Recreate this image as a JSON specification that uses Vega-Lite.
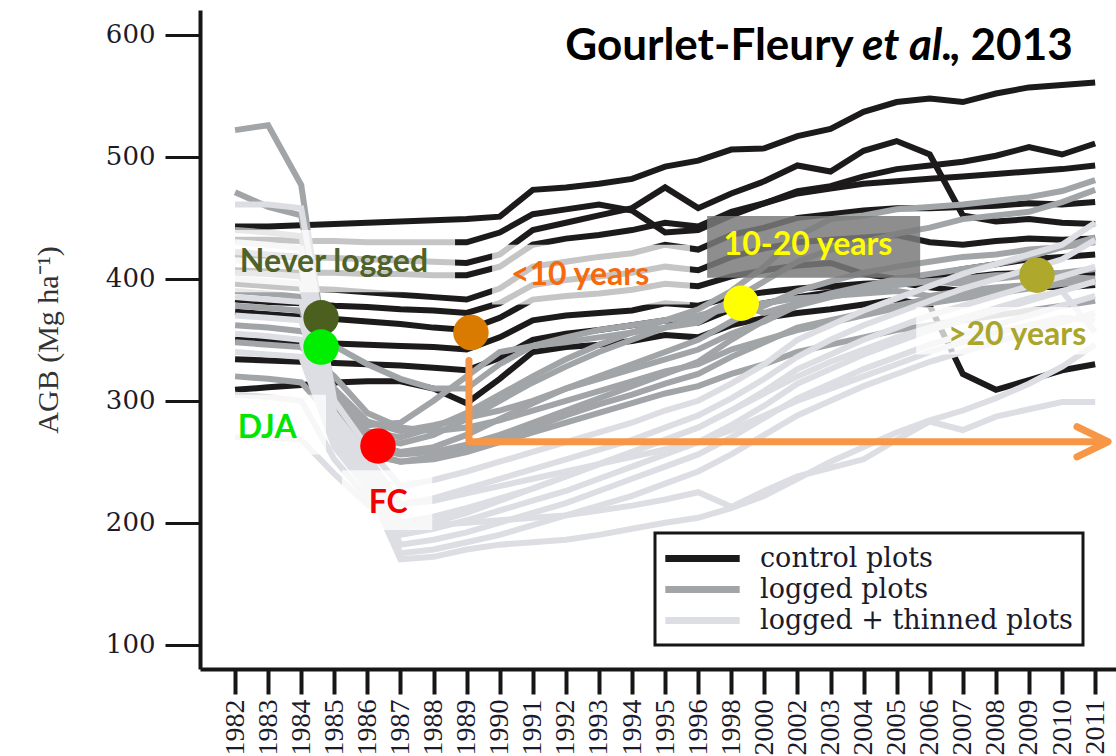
{
"$schema": "https://vega.github.io/schema/vega-lite/v6.json",
"width": 916, "height": 659,
"autosize": {"type": "none"},
"padding": {"left": 200, "top": 10, "right": 0, "bottom": 87},
"background": "white",
"config": {"view": {"stroke": null}},
"datasets": {
"plotTypes": [
{"plot":"C1","type":"control plots"},{"plot":"C2","type":"control plots"},{"plot":"C3","type":"control plots"},{"plot":"C4","type":"control plots"},{"plot":"C5","type":"control plots"},{"plot":"C6","type":"control plots"},{"plot":"C7","type":"control plots"},{"plot":"C8","type":"control plots"},{"plot":"C9","type":"control plots"},{"plot":"C10","type":"control plots"},
{"plot":"G1","type":"logged plots"},{"plot":"G2","type":"logged plots"},{"plot":"G3","type":"logged plots"},{"plot":"G4","type":"logged plots"},{"plot":"G5","type":"logged plots"},{"plot":"G6","type":"logged plots"},{"plot":"G7","type":"logged plots"},{"plot":"G8","type":"logged plots"},{"plot":"G9","type":"logged plots"},{"plot":"G10","type":"logged plots"},
{"plot":"L1","type":"logged + thinned plots"},{"plot":"L2","type":"logged + thinned plots"},{"plot":"L3","type":"logged + thinned plots"},{"plot":"L4","type":"logged + thinned plots"},{"plot":"L5","type":"logged + thinned plots"},{"plot":"L6","type":"logged + thinned plots"},{"plot":"L7","type":"logged + thinned plots"},{"plot":"L8","type":"logged + thinned plots"},{"plot":"L9","type":"logged + thinned plots"},{"plot":"L10","type":"logged + thinned plots"}
],
"agb": [
{"plot":"C1","census":0,"agb":443},{"plot":"C1","census":1,"agb":443},{"plot":"C1","census":2,"agb":444},{"plot":"C1","census":3,"agb":445},{"plot":"C1","census":4,"agb":446},{"plot":"C1","census":5,"agb":447},{"plot":"C1","census":6,"agb":448},{"plot":"C1","census":7,"agb":449},{"plot":"C1","census":8,"agb":451},{"plot":"C1","census":9,"agb":473},{"plot":"C1","census":10,"agb":475},{"plot":"C1","census":11,"agb":478},{"plot":"C1","census":12,"agb":482},{"plot":"C1","census":13,"agb":492},{"plot":"C1","census":14,"agb":497},{"plot":"C1","census":15,"agb":506},{"plot":"C1","census":16,"agb":507},{"plot":"C1","census":17,"agb":517},{"plot":"C1","census":18,"agb":523},{"plot":"C1","census":19,"agb":537},{"plot":"C1","census":20,"agb":545},{"plot":"C1","census":21,"agb":548},{"plot":"C1","census":22,"agb":545},{"plot":"C1","census":23,"agb":552},{"plot":"C1","census":24,"agb":557},{"plot":"C1","census":25,"agb":559},{"plot":"C1","census":26,"agb":561},
{"plot":"C2","census":0,"agb":432},{"plot":"C2","census":1,"agb":432},{"plot":"C2","census":2,"agb":431},{"plot":"C2","census":3,"agb":431},{"plot":"C2","census":4,"agb":430},{"plot":"C2","census":5,"agb":430},{"plot":"C2","census":6,"agb":430},{"plot":"C2","census":7,"agb":430},{"plot":"C2","census":8,"agb":438},{"plot":"C2","census":9,"agb":453},{"plot":"C2","census":10,"agb":457},{"plot":"C2","census":11,"agb":461},{"plot":"C2","census":12,"agb":456},{"plot":"C2","census":13,"agb":438},{"plot":"C2","census":14,"agb":440},{"plot":"C2","census":15,"agb":452},{"plot":"C2","census":16,"agb":462},{"plot":"C2","census":17,"agb":472},{"plot":"C2","census":18,"agb":476},{"plot":"C2","census":19,"agb":484},{"plot":"C2","census":20,"agb":490},{"plot":"C2","census":21,"agb":493},{"plot":"C2","census":22,"agb":496},{"plot":"C2","census":23,"agb":501},{"plot":"C2","census":24,"agb":508},{"plot":"C2","census":25,"agb":502},{"plot":"C2","census":26,"agb":511},
{"plot":"C3","census":0,"agb":420},{"plot":"C3","census":1,"agb":419},{"plot":"C3","census":2,"agb":418},{"plot":"C3","census":3,"agb":417},{"plot":"C3","census":4,"agb":416},{"plot":"C3","census":5,"agb":415},{"plot":"C3","census":6,"agb":414},{"plot":"C3","census":7,"agb":413},{"plot":"C3","census":8,"agb":420},{"plot":"C3","census":9,"agb":440},{"plot":"C3","census":10,"agb":446},{"plot":"C3","census":11,"agb":452},{"plot":"C3","census":12,"agb":458},{"plot":"C3","census":13,"agb":475},{"plot":"C3","census":14,"agb":458},{"plot":"C3","census":15,"agb":470},{"plot":"C3","census":16,"agb":480},{"plot":"C3","census":17,"agb":493},{"plot":"C3","census":18,"agb":488},{"plot":"C3","census":19,"agb":505},{"plot":"C3","census":20,"agb":513},{"plot":"C3","census":21,"agb":502},{"plot":"C3","census":22,"agb":452},{"plot":"C3","census":23,"agb":447},{"plot":"C3","census":24,"agb":449},{"plot":"C3","census":25,"agb":446},{"plot":"C3","census":26,"agb":445},
{"plot":"C4","census":0,"agb":407},{"plot":"C4","census":1,"agb":406},{"plot":"C4","census":2,"agb":405},{"plot":"C4","census":3,"agb":405},{"plot":"C4","census":4,"agb":404},{"plot":"C4","census":5,"agb":404},{"plot":"C4","census":6,"agb":403},{"plot":"C4","census":7,"agb":403},{"plot":"C4","census":8,"agb":410},{"plot":"C4","census":9,"agb":428},{"plot":"C4","census":10,"agb":433},{"plot":"C4","census":11,"agb":436},{"plot":"C4","census":12,"agb":440},{"plot":"C4","census":13,"agb":446},{"plot":"C4","census":14,"agb":443},{"plot":"C4","census":15,"agb":455},{"plot":"C4","census":16,"agb":462},{"plot":"C4","census":17,"agb":470},{"plot":"C4","census":18,"agb":474},{"plot":"C4","census":19,"agb":478},{"plot":"C4","census":20,"agb":480},{"plot":"C4","census":21,"agb":482},{"plot":"C4","census":22,"agb":484},{"plot":"C4","census":23,"agb":486},{"plot":"C4","census":24,"agb":488},{"plot":"C4","census":25,"agb":490},{"plot":"C4","census":26,"agb":493},
{"plot":"C5","census":0,"agb":396},{"plot":"C5","census":1,"agb":394},{"plot":"C5","census":2,"agb":392},{"plot":"C5","census":3,"agb":391},{"plot":"C5","census":4,"agb":389},{"plot":"C5","census":5,"agb":387},{"plot":"C5","census":6,"agb":385},{"plot":"C5","census":7,"agb":383},{"plot":"C5","census":8,"agb":392},{"plot":"C5","census":9,"agb":410},{"plot":"C5","census":10,"agb":414},{"plot":"C5","census":11,"agb":418},{"plot":"C5","census":12,"agb":421},{"plot":"C5","census":13,"agb":428},{"plot":"C5","census":14,"agb":424},{"plot":"C5","census":15,"agb":436},{"plot":"C5","census":16,"agb":442},{"plot":"C5","census":17,"agb":450},{"plot":"C5","census":18,"agb":453},{"plot":"C5","census":19,"agb":456},{"plot":"C5","census":20,"agb":458},{"plot":"C5","census":21,"agb":458},{"plot":"C5","census":22,"agb":459},{"plot":"C5","census":23,"agb":460},{"plot":"C5","census":24,"agb":462},{"plot":"C5","census":25,"agb":461},{"plot":"C5","census":26,"agb":463},
{"plot":"C6","census":0,"agb":383},{"plot":"C6","census":1,"agb":381},{"plot":"C6","census":2,"agb":380},{"plot":"C6","census":3,"agb":378},{"plot":"C6","census":4,"agb":377},{"plot":"C6","census":5,"agb":375},{"plot":"C6","census":6,"agb":374},{"plot":"C6","census":7,"agb":372},{"plot":"C6","census":8,"agb":380},{"plot":"C6","census":9,"agb":395},{"plot":"C6","census":10,"agb":399},{"plot":"C6","census":11,"agb":402},{"plot":"C6","census":12,"agb":405},{"plot":"C6","census":13,"agb":410},{"plot":"C6","census":14,"agb":407},{"plot":"C6","census":15,"agb":418},{"plot":"C6","census":16,"agb":425},{"plot":"C6","census":17,"agb":430},{"plot":"C6","census":18,"agb":432},{"plot":"C6","census":19,"agb":434},{"plot":"C6","census":20,"agb":436},{"plot":"C6","census":21,"agb":430},{"plot":"C6","census":22,"agb":428},{"plot":"C6","census":23,"agb":431},{"plot":"C6","census":24,"agb":433},{"plot":"C6","census":25,"agb":432},{"plot":"C6","census":26,"agb":433},
{"plot":"C7","census":0,"agb":373},{"plot":"C7","census":1,"agb":371},{"plot":"C7","census":2,"agb":369},{"plot":"C7","census":3,"agb":367},{"plot":"C7","census":4,"agb":365},{"plot":"C7","census":5,"agb":363},{"plot":"C7","census":6,"agb":360},{"plot":"C7","census":7,"agb":358},{"plot":"C7","census":8,"agb":368},{"plot":"C7","census":9,"agb":383},{"plot":"C7","census":10,"agb":386},{"plot":"C7","census":11,"agb":388},{"plot":"C7","census":12,"agb":391},{"plot":"C7","census":13,"agb":396},{"plot":"C7","census":14,"agb":394},{"plot":"C7","census":15,"agb":402},{"plot":"C7","census":16,"agb":407},{"plot":"C7","census":17,"agb":411},{"plot":"C7","census":18,"agb":413},{"plot":"C7","census":19,"agb":404},{"plot":"C7","census":20,"agb":400},{"plot":"C7","census":21,"agb":402},{"plot":"C7","census":22,"agb":401},{"plot":"C7","census":23,"agb":404},{"plot":"C7","census":24,"agb":405},{"plot":"C7","census":25,"agb":404},{"plot":"C7","census":26,"agb":405},
{"plot":"C8","census":0,"agb":350},{"plot":"C8","census":1,"agb":349},{"plot":"C8","census":2,"agb":348},{"plot":"C8","census":3,"agb":347},{"plot":"C8","census":4,"agb":346},{"plot":"C8","census":5,"agb":345},{"plot":"C8","census":6,"agb":344},{"plot":"C8","census":7,"agb":342},{"plot":"C8","census":8,"agb":352},{"plot":"C8","census":9,"agb":366},{"plot":"C8","census":10,"agb":370},{"plot":"C8","census":11,"agb":372},{"plot":"C8","census":12,"agb":374},{"plot":"C8","census":13,"agb":380},{"plot":"C8","census":14,"agb":378},{"plot":"C8","census":15,"agb":385},{"plot":"C8","census":16,"agb":389},{"plot":"C8","census":17,"agb":392},{"plot":"C8","census":18,"agb":394},{"plot":"C8","census":19,"agb":396},{"plot":"C8","census":20,"agb":397},{"plot":"C8","census":21,"agb":393},{"plot":"C8","census":22,"agb":390},{"plot":"C8","census":23,"agb":392},{"plot":"C8","census":24,"agb":394},{"plot":"C8","census":25,"agb":393},{"plot":"C8","census":26,"agb":395},
{"plot":"C9","census":0,"agb":334},{"plot":"C9","census":1,"agb":333},{"plot":"C9","census":2,"agb":332},{"plot":"C9","census":3,"agb":331},{"plot":"C9","census":4,"agb":330},{"plot":"C9","census":5,"agb":329},{"plot":"C9","census":6,"agb":327},{"plot":"C9","census":7,"agb":325},{"plot":"C9","census":8,"agb":335},{"plot":"C9","census":9,"agb":350},{"plot":"C9","census":10,"agb":355},{"plot":"C9","census":11,"agb":358},{"plot":"C9","census":12,"agb":362},{"plot":"C9","census":13,"agb":366},{"plot":"C9","census":14,"agb":364},{"plot":"C9","census":15,"agb":375},{"plot":"C9","census":16,"agb":380},{"plot":"C9","census":17,"agb":385},{"plot":"C9","census":18,"agb":389},{"plot":"C9","census":19,"agb":393},{"plot":"C9","census":20,"agb":398},{"plot":"C9","census":21,"agb":403},{"plot":"C9","census":22,"agb":408},{"plot":"C9","census":23,"agb":412},{"plot":"C9","census":24,"agb":416},{"plot":"C9","census":25,"agb":418},{"plot":"C9","census":26,"agb":420},
{"plot":"C10","census":0,"agb":309},{"plot":"C10","census":1,"agb":311},{"plot":"C10","census":2,"agb":313},{"plot":"C10","census":3,"agb":315},{"plot":"C10","census":4,"agb":316},{"plot":"C10","census":5,"agb":316},{"plot":"C10","census":6,"agb":310},{"plot":"C10","census":7,"agb":298},{"plot":"C10","census":8,"agb":318},{"plot":"C10","census":9,"agb":340},{"plot":"C10","census":10,"agb":344},{"plot":"C10","census":11,"agb":346},{"plot":"C10","census":12,"agb":349},{"plot":"C10","census":13,"agb":354},{"plot":"C10","census":14,"agb":352},{"plot":"C10","census":15,"agb":362},{"plot":"C10","census":16,"agb":368},{"plot":"C10","census":17,"agb":372},{"plot":"C10","census":18,"agb":375},{"plot":"C10","census":19,"agb":379},{"plot":"C10","census":20,"agb":383},{"plot":"C10","census":21,"agb":378},{"plot":"C10","census":22,"agb":322},{"plot":"C10","census":23,"agb":309},{"plot":"C10","census":24,"agb":317},{"plot":"C10","census":25,"agb":325},{"plot":"C10","census":26,"agb":330},
{"plot":"G1","census":0,"agb":522},{"plot":"G1","census":1,"agb":526},{"plot":"G1","census":2,"agb":477},{"plot":"G1","census":3,"agb":292},{"plot":"G1","census":4,"agb":265},{"plot":"G1","census":5,"agb":258},{"plot":"G1","census":6,"agb":262},{"plot":"G1","census":7,"agb":272},{"plot":"G1","census":8,"agb":285},{"plot":"G1","census":9,"agb":298},{"plot":"G1","census":10,"agb":310},{"plot":"G1","census":11,"agb":320},{"plot":"G1","census":12,"agb":330},{"plot":"G1","census":13,"agb":340},{"plot":"G1","census":14,"agb":350},{"plot":"G1","census":15,"agb":365},{"plot":"G1","census":16,"agb":378},{"plot":"G1","census":17,"agb":390},{"plot":"G1","census":18,"agb":398},{"plot":"G1","census":19,"agb":405},{"plot":"G1","census":20,"agb":410},{"plot":"G1","census":21,"agb":414},{"plot":"G1","census":22,"agb":418},{"plot":"G1","census":23,"agb":420},{"plot":"G1","census":24,"agb":424},{"plot":"G1","census":25,"agb":426},{"plot":"G1","census":26,"agb":430},
{"plot":"G2","census":0,"agb":471},{"plot":"G2","census":1,"agb":459},{"plot":"G2","census":2,"agb":452},{"plot":"G2","census":3,"agb":280},{"plot":"G2","census":4,"agb":256},{"plot":"G2","census":5,"agb":250},{"plot":"G2","census":6,"agb":254},{"plot":"G2","census":7,"agb":260},{"plot":"G2","census":8,"agb":268},{"plot":"G2","census":9,"agb":278},{"plot":"G2","census":10,"agb":288},{"plot":"G2","census":11,"agb":297},{"plot":"G2","census":12,"agb":305},{"plot":"G2","census":13,"agb":314},{"plot":"G2","census":14,"agb":322},{"plot":"G2","census":15,"agb":336},{"plot":"G2","census":16,"agb":348},{"plot":"G2","census":17,"agb":360},{"plot":"G2","census":18,"agb":366},{"plot":"G2","census":19,"agb":372},{"plot":"G2","census":20,"agb":378},{"plot":"G2","census":21,"agb":384},{"plot":"G2","census":22,"agb":388},{"plot":"G2","census":23,"agb":392},{"plot":"G2","census":24,"agb":395},{"plot":"G2","census":25,"agb":397},{"plot":"G2","census":26,"agb":397},
{"plot":"G3","census":0,"agb":440},{"plot":"G3","census":1,"agb":438},{"plot":"G3","census":2,"agb":435},{"plot":"G3","census":3,"agb":305},{"plot":"G3","census":4,"agb":275},{"plot":"G3","census":5,"agb":270},{"plot":"G3","census":6,"agb":278},{"plot":"G3","census":7,"agb":290},{"plot":"G3","census":8,"agb":305},{"plot":"G3","census":9,"agb":320},{"plot":"G3","census":10,"agb":334},{"plot":"G3","census":11,"agb":346},{"plot":"G3","census":12,"agb":356},{"plot":"G3","census":13,"agb":366},{"plot":"G3","census":14,"agb":375},{"plot":"G3","census":15,"agb":390},{"plot":"G3","census":16,"agb":410},{"plot":"G3","census":17,"agb":435},{"plot":"G3","census":18,"agb":449},{"plot":"G3","census":19,"agb":452},{"plot":"G3","census":20,"agb":457},{"plot":"G3","census":21,"agb":459},{"plot":"G3","census":22,"agb":461},{"plot":"G3","census":23,"agb":464},{"plot":"G3","census":24,"agb":467},{"plot":"G3","census":25,"agb":472},{"plot":"G3","census":26,"agb":481},
{"plot":"G4","census":0,"agb":422},{"plot":"G4","census":1,"agb":420},{"plot":"G4","census":2,"agb":418},{"plot":"G4","census":3,"agb":298},{"plot":"G4","census":4,"agb":270},{"plot":"G4","census":5,"agb":265},{"plot":"G4","census":6,"agb":272},{"plot":"G4","census":7,"agb":285},{"plot":"G4","census":8,"agb":300},{"plot":"G4","census":9,"agb":315},{"plot":"G4","census":10,"agb":328},{"plot":"G4","census":11,"agb":340},{"plot":"G4","census":12,"agb":350},{"plot":"G4","census":13,"agb":360},{"plot":"G4","census":14,"agb":368},{"plot":"G4","census":15,"agb":382},{"plot":"G4","census":16,"agb":398},{"plot":"G4","census":17,"agb":414},{"plot":"G4","census":18,"agb":424},{"plot":"G4","census":19,"agb":430},{"plot":"G4","census":20,"agb":437},{"plot":"G4","census":21,"agb":442},{"plot":"G4","census":22,"agb":449},{"plot":"G4","census":23,"agb":452},{"plot":"G4","census":24,"agb":455},{"plot":"G4","census":25,"agb":463},{"plot":"G4","census":26,"agb":473},
{"plot":"G5","census":0,"agb":405},{"plot":"G5","census":1,"agb":404},{"plot":"G5","census":2,"agb":402},{"plot":"G5","census":3,"agb":290},{"plot":"G5","census":4,"agb":262},{"plot":"G5","census":5,"agb":256},{"plot":"G5","census":6,"agb":258},{"plot":"G5","census":7,"agb":264},{"plot":"G5","census":8,"agb":272},{"plot":"G5","census":9,"agb":282},{"plot":"G5","census":10,"agb":292},{"plot":"G5","census":11,"agb":302},{"plot":"G5","census":12,"agb":312},{"plot":"G5","census":13,"agb":322},{"plot":"G5","census":14,"agb":332},{"plot":"G5","census":15,"agb":350},{"plot":"G5","census":16,"agb":366},{"plot":"G5","census":17,"agb":380},{"plot":"G5","census":18,"agb":388},{"plot":"G5","census":19,"agb":394},{"plot":"G5","census":20,"agb":400},{"plot":"G5","census":21,"agb":404},{"plot":"G5","census":22,"agb":408},{"plot":"G5","census":23,"agb":412},{"plot":"G5","census":24,"agb":418},{"plot":"G5","census":25,"agb":426},{"plot":"G5","census":26,"agb":434},
{"plot":"G6","census":0,"agb":390},{"plot":"G6","census":1,"agb":388},{"plot":"G6","census":2,"agb":385},{"plot":"G6","census":3,"agb":300},{"plot":"G6","census":4,"agb":280},{"plot":"G6","census":5,"agb":282},{"plot":"G6","census":6,"agb":300},{"plot":"G6","census":7,"agb":320},{"plot":"G6","census":8,"agb":340},{"plot":"G6","census":9,"agb":345},{"plot":"G6","census":10,"agb":348},{"plot":"G6","census":11,"agb":352},{"plot":"G6","census":12,"agb":356},{"plot":"G6","census":13,"agb":360},{"plot":"G6","census":14,"agb":364},{"plot":"G6","census":15,"agb":381},{"plot":"G6","census":16,"agb":372},{"plot":"G6","census":17,"agb":380},{"plot":"G6","census":18,"agb":386},{"plot":"G6","census":19,"agb":392},{"plot":"G6","census":20,"agb":397},{"plot":"G6","census":21,"agb":398},{"plot":"G6","census":22,"agb":396},{"plot":"G6","census":23,"agb":400},{"plot":"G6","census":24,"agb":403},{"plot":"G6","census":25,"agb":402},{"plot":"G6","census":26,"agb":400},
{"plot":"G7","census":0,"agb":378},{"plot":"G7","census":1,"agb":376},{"plot":"G7","census":2,"agb":374},{"plot":"G7","census":3,"agb":310},{"plot":"G7","census":4,"agb":283},{"plot":"G7","census":5,"agb":275},{"plot":"G7","census":6,"agb":280},{"plot":"G7","census":7,"agb":286},{"plot":"G7","census":8,"agb":292},{"plot":"G7","census":9,"agb":300},{"plot":"G7","census":10,"agb":310},{"plot":"G7","census":11,"agb":318},{"plot":"G7","census":12,"agb":326},{"plot":"G7","census":13,"agb":334},{"plot":"G7","census":14,"agb":342},{"plot":"G7","census":15,"agb":355},{"plot":"G7","census":16,"agb":365},{"plot":"G7","census":17,"agb":378},{"plot":"G7","census":18,"agb":385},{"plot":"G7","census":19,"agb":390},{"plot":"G7","census":20,"agb":395},{"plot":"G7","census":21,"agb":398},{"plot":"G7","census":22,"agb":400},{"plot":"G7","census":23,"agb":403},{"plot":"G7","census":24,"agb":403},{"plot":"G7","census":25,"agb":405},{"plot":"G7","census":26,"agb":408},
{"plot":"G8","census":0,"agb":362},{"plot":"G8","census":1,"agb":360},{"plot":"G8","census":2,"agb":357},{"plot":"G8","census":3,"agb":345},{"plot":"G8","census":4,"agb":330},{"plot":"G8","census":5,"agb":318},{"plot":"G8","census":6,"agb":310},{"plot":"G8","census":7,"agb":310},{"plot":"G8","census":8,"agb":330},{"plot":"G8","census":9,"agb":345},{"plot":"G8","census":10,"agb":352},{"plot":"G8","census":11,"agb":358},{"plot":"G8","census":12,"agb":362},{"plot":"G8","census":13,"agb":366},{"plot":"G8","census":14,"agb":370},{"plot":"G8","census":15,"agb":376},{"plot":"G8","census":16,"agb":380},{"plot":"G8","census":17,"agb":384},{"plot":"G8","census":18,"agb":386},{"plot":"G8","census":19,"agb":388},{"plot":"G8","census":20,"agb":390},{"plot":"G8","census":21,"agb":386},{"plot":"G8","census":22,"agb":390},{"plot":"G8","census":23,"agb":393},{"plot":"G8","census":24,"agb":395},{"plot":"G8","census":25,"agb":396},{"plot":"G8","census":26,"agb":398},
{"plot":"G9","census":0,"agb":348},{"plot":"G9","census":1,"agb":346},{"plot":"G9","census":2,"agb":344},{"plot":"G9","census":3,"agb":320},{"plot":"G9","census":4,"agb":290},{"plot":"G9","census":5,"agb":278},{"plot":"G9","census":6,"agb":275},{"plot":"G9","census":7,"agb":278},{"plot":"G9","census":8,"agb":284},{"plot":"G9","census":9,"agb":292},{"plot":"G9","census":10,"agb":300},{"plot":"G9","census":11,"agb":308},{"plot":"G9","census":12,"agb":316},{"plot":"G9","census":13,"agb":324},{"plot":"G9","census":14,"agb":330},{"plot":"G9","census":15,"agb":342},{"plot":"G9","census":16,"agb":350},{"plot":"G9","census":17,"agb":358},{"plot":"G9","census":18,"agb":364},{"plot":"G9","census":19,"agb":370},{"plot":"G9","census":20,"agb":376},{"plot":"G9","census":21,"agb":380},{"plot":"G9","census":22,"agb":384},{"plot":"G9","census":23,"agb":388},{"plot":"G9","census":24,"agb":392},{"plot":"G9","census":25,"agb":396},{"plot":"G9","census":26,"agb":400},
{"plot":"G10","census":0,"agb":320},{"plot":"G10","census":1,"agb":318},{"plot":"G10","census":2,"agb":315},{"plot":"G10","census":3,"agb":285},{"plot":"G10","census":4,"agb":258},{"plot":"G10","census":5,"agb":250},{"plot":"G10","census":6,"agb":252},{"plot":"G10","census":7,"agb":258},{"plot":"G10","census":8,"agb":266},{"plot":"G10","census":9,"agb":274},{"plot":"G10","census":10,"agb":282},{"plot":"G10","census":11,"agb":290},{"plot":"G10","census":12,"agb":298},{"plot":"G10","census":13,"agb":306},{"plot":"G10","census":14,"agb":312},{"plot":"G10","census":15,"agb":322},{"plot":"G10","census":16,"agb":330},{"plot":"G10","census":17,"agb":340},{"plot":"G10","census":18,"agb":346},{"plot":"G10","census":19,"agb":352},{"plot":"G10","census":20,"agb":358},{"plot":"G10","census":21,"agb":362},{"plot":"G10","census":22,"agb":366},{"plot":"G10","census":23,"agb":370},{"plot":"G10","census":24,"agb":374},{"plot":"G10","census":25,"agb":378},{"plot":"G10","census":26,"agb":382},
{"plot":"L1","census":0,"agb":461},{"plot":"L1","census":1,"agb":461},{"plot":"L1","census":2,"agb":458},{"plot":"L1","census":3,"agb":300},{"plot":"L1","census":4,"agb":262},{"plot":"L1","census":5,"agb":230},{"plot":"L1","census":6,"agb":235},{"plot":"L1","census":7,"agb":242},{"plot":"L1","census":8,"agb":250},{"plot":"L1","census":9,"agb":258},{"plot":"L1","census":10,"agb":266},{"plot":"L1","census":11,"agb":274},{"plot":"L1","census":12,"agb":282},{"plot":"L1","census":13,"agb":292},{"plot":"L1","census":14,"agb":300},{"plot":"L1","census":15,"agb":314},{"plot":"L1","census":16,"agb":330},{"plot":"L1","census":17,"agb":350},{"plot":"L1","census":18,"agb":362},{"plot":"L1","census":19,"agb":374},{"plot":"L1","census":20,"agb":384},{"plot":"L1","census":21,"agb":394},{"plot":"L1","census":22,"agb":404},{"plot":"L1","census":23,"agb":412},{"plot":"L1","census":24,"agb":420},{"plot":"L1","census":25,"agb":428},{"plot":"L1","census":26,"agb":446},
{"plot":"L2","census":0,"agb":430},{"plot":"L2","census":1,"agb":428},{"plot":"L2","census":2,"agb":425},{"plot":"L2","census":3,"agb":290},{"plot":"L2","census":4,"agb":255},{"plot":"L2","census":5,"agb":215},{"plot":"L2","census":6,"agb":220},{"plot":"L2","census":7,"agb":228},{"plot":"L2","census":8,"agb":236},{"plot":"L2","census":9,"agb":244},{"plot":"L2","census":10,"agb":252},{"plot":"L2","census":11,"agb":260},{"plot":"L2","census":12,"agb":268},{"plot":"L2","census":13,"agb":278},{"plot":"L2","census":14,"agb":288},{"plot":"L2","census":15,"agb":302},{"plot":"L2","census":16,"agb":318},{"plot":"L2","census":17,"agb":336},{"plot":"L2","census":18,"agb":350},{"plot":"L2","census":19,"agb":362},{"plot":"L2","census":20,"agb":372},{"plot":"L2","census":21,"agb":382},{"plot":"L2","census":22,"agb":392},{"plot":"L2","census":23,"agb":400},{"plot":"L2","census":24,"agb":408},{"plot":"L2","census":25,"agb":416},{"plot":"L2","census":26,"agb":432},
{"plot":"L3","census":0,"agb":415},{"plot":"L3","census":1,"agb":413},{"plot":"L3","census":2,"agb":410},{"plot":"L3","census":3,"agb":285},{"plot":"L3","census":4,"agb":250},{"plot":"L3","census":5,"agb":200},{"plot":"L3","census":6,"agb":205},{"plot":"L3","census":7,"agb":212},{"plot":"L3","census":8,"agb":220},{"plot":"L3","census":9,"agb":228},{"plot":"L3","census":10,"agb":238},{"plot":"L3","census":11,"agb":248},{"plot":"L3","census":12,"agb":258},{"plot":"L3","census":13,"agb":268},{"plot":"L3","census":14,"agb":278},{"plot":"L3","census":15,"agb":292},{"plot":"L3","census":16,"agb":308},{"plot":"L3","census":17,"agb":326},{"plot":"L3","census":18,"agb":338},{"plot":"L3","census":19,"agb":350},{"plot":"L3","census":20,"agb":360},{"plot":"L3","census":21,"agb":370},{"plot":"L3","census":22,"agb":378},{"plot":"L3","census":23,"agb":386},{"plot":"L3","census":24,"agb":394},{"plot":"L3","census":25,"agb":402},{"plot":"L3","census":26,"agb":410},
{"plot":"L4","census":0,"agb":400},{"plot":"L4","census":1,"agb":398},{"plot":"L4","census":2,"agb":396},{"plot":"L4","census":3,"agb":280},{"plot":"L4","census":4,"agb":245},{"plot":"L4","census":5,"agb":190},{"plot":"L4","census":6,"agb":195},{"plot":"L4","census":7,"agb":202},{"plot":"L4","census":8,"agb":210},{"plot":"L4","census":9,"agb":218},{"plot":"L4","census":10,"agb":226},{"plot":"L4","census":11,"agb":236},{"plot":"L4","census":12,"agb":246},{"plot":"L4","census":13,"agb":256},{"plot":"L4","census":14,"agb":266},{"plot":"L4","census":15,"agb":280},{"plot":"L4","census":16,"agb":296},{"plot":"L4","census":17,"agb":314},{"plot":"L4","census":18,"agb":326},{"plot":"L4","census":19,"agb":338},{"plot":"L4","census":20,"agb":348},{"plot":"L4","census":21,"agb":358},{"plot":"L4","census":22,"agb":366},{"plot":"L4","census":23,"agb":374},{"plot":"L4","census":24,"agb":382},{"plot":"L4","census":25,"agb":390},{"plot":"L4","census":26,"agb":398},
{"plot":"L5","census":0,"agb":385},{"plot":"L5","census":1,"agb":383},{"plot":"L5","census":2,"agb":381},{"plot":"L5","census":3,"agb":275},{"plot":"L5","census":4,"agb":240},{"plot":"L5","census":5,"agb":182},{"plot":"L5","census":6,"agb":186},{"plot":"L5","census":7,"agb":192},{"plot":"L5","census":8,"agb":200},{"plot":"L5","census":9,"agb":208},{"plot":"L5","census":10,"agb":216},{"plot":"L5","census":11,"agb":226},{"plot":"L5","census":12,"agb":236},{"plot":"L5","census":13,"agb":246},{"plot":"L5","census":14,"agb":256},{"plot":"L5","census":15,"agb":270},{"plot":"L5","census":16,"agb":286},{"plot":"L5","census":17,"agb":302},{"plot":"L5","census":18,"agb":314},{"plot":"L5","census":19,"agb":326},{"plot":"L5","census":20,"agb":336},{"plot":"L5","census":21,"agb":346},{"plot":"L5","census":22,"agb":354},{"plot":"L5","census":23,"agb":362},{"plot":"L5","census":24,"agb":370},{"plot":"L5","census":25,"agb":378},{"plot":"L5","census":26,"agb":386},
{"plot":"L6","census":0,"agb":370},{"plot":"L6","census":1,"agb":368},{"plot":"L6","census":2,"agb":366},{"plot":"L6","census":3,"agb":270},{"plot":"L6","census":4,"agb":235},{"plot":"L6","census":5,"agb":175},{"plot":"L6","census":6,"agb":178},{"plot":"L6","census":7,"agb":184},{"plot":"L6","census":8,"agb":190},{"plot":"L6","census":9,"agb":198},{"plot":"L6","census":10,"agb":206},{"plot":"L6","census":11,"agb":214},{"plot":"L6","census":12,"agb":222},{"plot":"L6","census":13,"agb":232},{"plot":"L6","census":14,"agb":242},{"plot":"L6","census":15,"agb":256},{"plot":"L6","census":16,"agb":272},{"plot":"L6","census":17,"agb":288},{"plot":"L6","census":18,"agb":300},{"plot":"L6","census":19,"agb":312},{"plot":"L6","census":20,"agb":322},{"plot":"L6","census":21,"agb":332},{"plot":"L6","census":22,"agb":340},{"plot":"L6","census":23,"agb":348},{"plot":"L6","census":24,"agb":356},{"plot":"L6","census":25,"agb":364},{"plot":"L6","census":26,"agb":372},
{"plot":"L7","census":0,"agb":355},{"plot":"L7","census":1,"agb":353},{"plot":"L7","census":2,"agb":350},{"plot":"L7","census":3,"agb":265},{"plot":"L7","census":4,"agb":230},{"plot":"L7","census":5,"agb":170},{"plot":"L7","census":6,"agb":172},{"plot":"L7","census":7,"agb":178},{"plot":"L7","census":8,"agb":182},{"plot":"L7","census":9,"agb":184},{"plot":"L7","census":10,"agb":186},{"plot":"L7","census":11,"agb":190},{"plot":"L7","census":12,"agb":195},{"plot":"L7","census":13,"agb":200},{"plot":"L7","census":14,"agb":204},{"plot":"L7","census":15,"agb":212},{"plot":"L7","census":16,"agb":222},{"plot":"L7","census":17,"agb":236},{"plot":"L7","census":18,"agb":250},{"plot":"L7","census":19,"agb":262},{"plot":"L7","census":20,"agb":274},{"plot":"L7","census":21,"agb":284},{"plot":"L7","census":22,"agb":292},{"plot":"L7","census":23,"agb":302},{"plot":"L7","census":24,"agb":314},{"plot":"L7","census":25,"agb":328},{"plot":"L7","census":26,"agb":346},
{"plot":"L8","census":0,"agb":340},{"plot":"L8","census":1,"agb":338},{"plot":"L8","census":2,"agb":336},{"plot":"L8","census":3,"agb":262},{"plot":"L8","census":4,"agb":228},{"plot":"L8","census":5,"agb":215},{"plot":"L8","census":6,"agb":218},{"plot":"L8","census":7,"agb":224},{"plot":"L8","census":8,"agb":230},{"plot":"L8","census":9,"agb":236},{"plot":"L8","census":10,"agb":242},{"plot":"L8","census":11,"agb":248},{"plot":"L8","census":12,"agb":254},{"plot":"L8","census":13,"agb":260},{"plot":"L8","census":14,"agb":266},{"plot":"L8","census":15,"agb":276},{"plot":"L8","census":16,"agb":288},{"plot":"L8","census":17,"agb":300},{"plot":"L8","census":18,"agb":310},{"plot":"L8","census":19,"agb":320},{"plot":"L8","census":20,"agb":330},{"plot":"L8","census":21,"agb":340},{"plot":"L8","census":22,"agb":348},{"plot":"L8","census":23,"agb":356},{"plot":"L8","census":24,"agb":362},{"plot":"L8","census":25,"agb":368},{"plot":"L8","census":26,"agb":366},
{"plot":"L9","census":0,"agb":305},{"plot":"L9","census":1,"agb":303},{"plot":"L9","census":2,"agb":300},{"plot":"L9","census":3,"agb":252},{"plot":"L9","census":4,"agb":220},{"plot":"L9","census":5,"agb":196},{"plot":"L9","census":6,"agb":198},{"plot":"L9","census":7,"agb":200},{"plot":"L9","census":8,"agb":202},{"plot":"L9","census":9,"agb":204},{"plot":"L9","census":10,"agb":206},{"plot":"L9","census":11,"agb":210},{"plot":"L9","census":12,"agb":214},{"plot":"L9","census":13,"agb":219},{"plot":"L9","census":14,"agb":225},{"plot":"L9","census":15,"agb":213},{"plot":"L9","census":16,"agb":226},{"plot":"L9","census":17,"agb":238},{"plot":"L9","census":18,"agb":245},{"plot":"L9","census":19,"agb":252},{"plot":"L9","census":20,"agb":268},{"plot":"L9","census":21,"agb":283},{"plot":"L9","census":22,"agb":276},{"plot":"L9","census":23,"agb":287},{"plot":"L9","census":24,"agb":293},{"plot":"L9","census":25,"agb":299},{"plot":"L9","census":26,"agb":299},
{"plot":"L10","census":0,"agb":270},{"plot":"L10","census":1,"agb":270},{"plot":"L10","census":2,"agb":268},{"plot":"L10","census":3,"agb":240},{"plot":"L10","census":4,"agb":215},{"plot":"L10","census":5,"agb":195},{"plot":"L10","census":6,"agb":200},{"plot":"L10","census":7,"agb":208},{"plot":"L10","census":8,"agb":218},{"plot":"L10","census":9,"agb":228},{"plot":"L10","census":10,"agb":238},{"plot":"L10","census":11,"agb":248},{"plot":"L10","census":12,"agb":258},{"plot":"L10","census":13,"agb":268},{"plot":"L10","census":14,"agb":278},{"plot":"L10","census":15,"agb":292},{"plot":"L10","census":16,"agb":306},{"plot":"L10","census":17,"agb":320},{"plot":"L10","census":18,"agb":332},{"plot":"L10","census":19,"agb":342},{"plot":"L10","census":20,"agb":352},{"plot":"L10","census":21,"agb":360},{"plot":"L10","census":22,"agb":368},{"plot":"L10","census":23,"agb":376},{"plot":"L10","census":24,"agb":384},{"plot":"L10","census":25,"agb":390},{"plot":"L10","census":26,"agb":356}
],
"whiteBoxes": [
{"box":"Never logged","census":-0.15,"census2":6.65,"agb":440,"agb2":389},
{"box":"<10 years","census":7.77,"census2":13.75,"agb":428,"agb2":379},
{"box":">20 years","census":20.59,"census2":26.7,"agb":377,"agb2":338},
{"box":"DJA","census":-0.09,"census2":2.75,"agb":305,"agb2":256},
{"box":"FC","census":3.23,"census2":5.96,"agb":243,"agb2":194}
],
"markers": [
{"group":"Never logged","census":2.6,"agb":368},
{"group":"DJA","census":2.6,"agb":344},
{"group":"FC","census":4.32,"agb":263},
{"group":"<10 years","census":7.13,"agb":356},
{"group":"10-20 years","census":15.3,"agb":380},
{"group":">20 years","census":24.24,"agb":403}
],
"arrow": [
{"part":"shaft","step":0,"census":7.07,"agb":333},
{"part":"shaft","step":1,"census":7.07,"agb":266.4},
{"part":"shaft","step":2,"census":26.3,"agb":266.4},
{"part":"head","step":0,"census":25.45,"agb":278.7},
{"part":"head","step":1,"census":26.39,"agb":266.4},
{"part":"head","step":2,"census":25.45,"agb":254}
]
},
"encoding": {
"x": {"field": "census", "type": "quantitative",
 "scale": {"domain": [-1.06, 26.63], "nice": false, "zero": false},
 "axis": {"values": [0,1,2,3,4,5,6,7,8,9,10,11,12,13,14,15,16,17,18,19,20,21,22,23,24,25,26],
  "labelExpr": "['1982','1983','1984','1985','1986','1987','1988','1989','1990','1991','1992','1993','1994','1995','1996','1998','2000','2002','2003','2004','2005','2006','2007','2008','2009','2010','2011'][datum.value]",
  "labelAngle": 270, "labelAlign": "right", "labelBaseline": "middle",
  "labelFont": "Liberation Serif", "labelFontSize": 28, "labelColor": "#1b1b2b",
  "labelPadding": 5, "labelOverlap": false, "labelFlush": false, "labelBound": false,
  "tickSize": 25, "tickWidth": 4, "tickColor": "#161616",
  "domainWidth": 4, "domainColor": "#161616", "grid": false, "title": null}},
"y": {"field": "agb", "type": "quantitative",
 "scale": {"domain": [80, 620.5], "nice": false, "zero": false},
 "axis": {"values": [100,200,300,400,500,600],
  "labelFont": "DejaVu Serif", "labelFontSize": 26, "labelColor": "#1b1b2b", "labelPadding": 10,
  "tickSize": 35, "tickWidth": 3, "tickColor": "#161616",
  "domainWidth": 4, "domainColor": "#161616", "grid": false,
  "title": "AGB (Mg ha⁻¹)", "titleFont": "Liberation Serif", "titleFontSize": 30, "titleFontWeight": "normal", "titleColor": "#333333", "titlePadding": 42}}
},
"layer": [
{"data": {"name": "agb"},
 "transform": [{"lookup": "plot", "from": {"data": {"name": "plotTypes"}, "key": "plot", "fields": ["type"]}}],
 "mark": {"type": "line", "strokeWidth": 6, "strokeJoin": "miter"},
 "encoding": {
  "detail": {"field": "plot", "type": "nominal"},
  "color": {"field": "type", "type": "nominal",
   "scale": {"domain": ["control plots", "logged plots", "logged + thinned plots"], "range": ["#1c1a1b", "#a2a5a7", "#dddee3"]},
   "legend": {"orient": "none", "legendX": 455, "legendY": 523, "title": null,
    "symbolType": "M-3.1,0H3.1", "symbolSize": 576, "symbolStrokeWidth": 7,
    "labelFont": "DejaVu Serif", "labelFontSize": 27, "labelColor": "#1b1b2b", "labelLimit": 600,
    "padding": 10, "strokeColor": "#161616", "fillColor": "white",
    "labelOffset": 42, "symbolOffset": 22, "rowPadding": 1,
    "encode": {"legend": {"update": {"strokeWidth": {"value": 3}}}}}}
 }},
{"data": {"name": "whiteBoxes"}, "mark": {"type": "rect", "fill": "white", "opacity": 0.75},
 "encoding": {"x2": {"field": "census2"}, "y2": {"field": "agb2"}}},
{"data": {"values": [{"box":"10-20 years","census":14.27,"census2":20.71,"agb":451.6,"agb2":400.8}]},
 "mark": {"type": "rect", "fill": "#7a7a7a", "opacity": 0.85},
 "encoding": {"x2": {"field": "census2"}, "y2": {"field": "agb2"}}},
{"data": {"name": "arrow"}, "mark": {"type": "line", "stroke": "#f79646", "strokeWidth": 7, "strokeCap": "round", "strokeJoin": "round"},
 "encoding": {"detail": {"field": "part", "type": "nominal"}, "order": {"field": "step", "type": "quantitative"}}},
{"data": {"name": "markers"}, "mark": {"type": "circle", "opacity": 1, "size": 1260},
 "encoding": {"fill": {"field": "group", "type": "nominal",
  "scale": {"domain": ["Never logged", "DJA", "FC", "<10 years", "10-20 years", ">20 years"], "range": ["#4b5f1e", "#00ef00", "#ff0000", "#d97b00", "#ffff00", "#aea82c"]},
  "legend": null}}},
{"data": {"values": [{"census": 2.99, "agb": 413.9, "label": "Never logged"}]},
 "mark": {"type": "text", "font": "Lato", "fontWeight": "bold", "fontSize": 32, "fill": "#4f6228", "align": "center", "baseline": "middle"},
 "encoding": {"text": {"field": "label"}}},
{"data": {"values": [{"census": 10.43, "agb": 403.3, "label": "<10 years"}]},
 "mark": {"type": "text", "font": "Lato", "fontWeight": "bold", "fontSize": 32, "fill": "#f6690c", "align": "center", "baseline": "middle"},
 "encoding": {"text": {"field": "label"}}},
{"data": {"values": [{"census": 17.32, "agb": 427.9, "label": "10-20 years"}]},
 "mark": {"type": "text", "font": "Lato", "fontWeight": "bold", "fontSize": 32, "fill": "#ffff00", "align": "center", "baseline": "middle"},
 "encoding": {"text": {"field": "label"}}},
{"data": {"values": [{"census": 23.64, "agb": 354.1, "label": ">20 years"}]},
 "mark": {"type": "text", "font": "Lato", "fontWeight": "bold", "fontSize": 32, "fill": "#aaa52b", "align": "center", "baseline": "middle"},
 "encoding": {"text": {"field": "label"}}},
{"data": {"values": [{"census": 0.97, "agb": 277.9, "label": "DJA"}]},
 "mark": {"type": "text", "font": "Lato", "fontWeight": "bold", "fontSize": 32, "fill": "#00e600", "align": "center", "baseline": "middle"},
 "encoding": {"text": {"field": "label"}}},
{"data": {"values": [{"census": 4.63, "agb": 216.4, "label": "FC"}]},
 "mark": {"type": "text", "font": "Lato", "fontWeight": "bold", "fontSize": 32, "fill": "#f00000", "align": "center", "baseline": "middle"},
 "encoding": {"text": {"field": "label"}}},
{"data": {"values": [{"census": 9.98, "agb": 579.5, "label": "Gourlet-Fleury"}]},
 "mark": {"type": "text", "font": "Lato", "fontWeight": "bold", "fontSize": 44, "fill": "#000000", "align": "left", "baseline": "alphabetic"},
 "encoding": {"text": {"field": "label"}}},
{"data": {"values": [{"census": 18.95, "agb": 579.5, "label": "et al."}]},
 "mark": {"type": "text", "font": "Lato", "fontWeight": "bold", "fontStyle": "italic", "fontSize": 44, "fill": "#000000", "align": "left", "baseline": "alphabetic"},
 "encoding": {"text": {"field": "label"}}},
{"data": {"values": [{"census": 21.6, "agb": 579.5, "label": ", 2013"}]},
 "mark": {"type": "text", "font": "Lato", "fontWeight": "bold", "fontSize": 44, "fill": "#000000", "align": "left", "baseline": "alphabetic"},
 "encoding": {"text": {"field": "label"}}}
]
}
